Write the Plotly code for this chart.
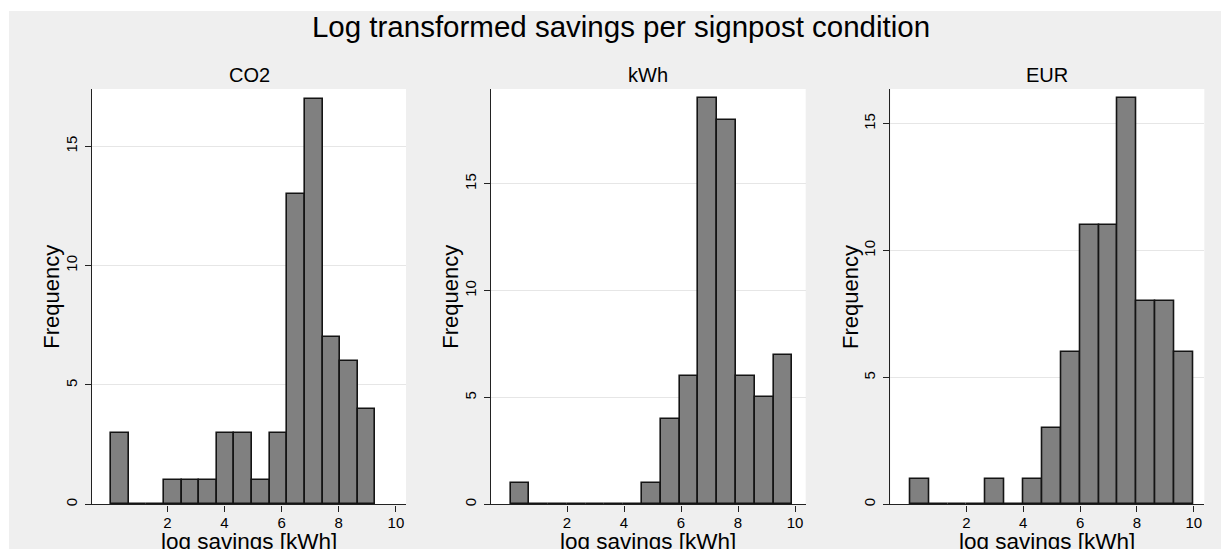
import plotly.graph_objects as go

# ---- data ----
panels = ["CO2", "kWh", "EUR"]
co2_bin_start = 0.03
co2_bin_width = 0.617
co2_counts = [3, 0, 0, 1, 1, 1, 3, 3, 1, 3, 13, 17, 7, 6, 4]

kwh_bin_start = 0.02
kwh_bin_width = 0.659
kwh_counts = [1, 0, 0, 0, 0, 0, 0, 1, 4, 6, 19, 18, 6, 5, 7]

eur_bin_start = 0.02
eur_bin_width = 0.664
eur_counts = [1, 0, 0, 0, 1, 0, 1, 3, 6, 11, 11, 16, 8, 8, 6]

x_tick_vals = [2, 4, 6, 8, 10]
y_tick_vals = [0, 5, 10, 15]

title_text = "Log transformed savings per signpost condition"
x_title = "log savings [kWh]"
y_title = "Frequency"

# ---- layout geometry (pixels of the 1221x549 picture) ----
W, H = 1221, 549
FONT = "Liberation Sans, Arial, Helvetica, sans-serif"
x_px = [[92, 406], [491, 805.7], [890.3, 1204.3]]
x_domains = [[a / W, b / W] for a, b in x_px]
y_top_px, y_bot_px = 89, 504.3
y_domain = [(H - y_bot_px) / H, (H - y_top_px) / H]
x_ranges = [[-0.637, 10.354], [-0.667, 10.375], [-0.675, 10.37]]
y_ranges = [[0, 17.40], [0, 19.44], [0, 16.37]]

series = [
    (co2_bin_start, co2_bin_width, co2_counts),
    (kwh_bin_start, kwh_bin_width, kwh_counts),
    (eur_bin_start, eur_bin_width, eur_counts),
]

fig = go.Figure()
for i, (start, width, counts) in enumerate(series):
    centers = [start + width * (k + 0.5) for k in range(len(counts))]
    sfx = "" if i == 0 else str(i + 1)
    fig.add_trace(go.Bar(
        x=centers, y=counts, width=[width] * len(counts),
        marker=dict(color="#808080", line=dict(color="#141414", width=1.6)),
        xaxis="x" + sfx, yaxis="y" + sfx, showlegend=False,
        hovertemplate="%{y}<extra></extra>",
    ))

layout = dict(
    width=W, height=H,
    margin=dict(l=0, r=0, t=0, b=0, autoexpand=False),
    paper_bgcolor="#efefef",
    plot_bgcolor="#ffffff",
    font=dict(family=FONT, color="#000000"),
    bargap=0,
    title=dict(text=title_text, x=621 / W, xanchor="center",
               y=1 - 27 / H, yanchor="middle", yref="container",
               font=dict(size=29.5, family=FONT, color="#000000")),
    shapes=[
        dict(type="rect", xref="paper", yref="paper", x0=0, x1=9 / W,
             y0=0, y1=1,
             fillcolor="#ffffff", line=dict(width=0), layer="below"),
        dict(type="rect", xref="paper", yref="paper", x0=0, x1=1,
             y0=1 - 11 / H, y1=1,
             fillcolor="#ffffff", line=dict(width=0), layer="below"),
    ],
    annotations=[],
)

for i in range(3):
    sfx = "" if i == 0 else str(i + 1)
    layout["xaxis" + sfx] = dict(
        domain=x_domains[i], range=x_ranges[i], anchor="y" + sfx,
        tickvals=x_tick_vals, ticks="outside", ticklen=6, tickwidth=1.2,
        tickcolor="#222222", showline=True, linecolor="#222222", linewidth=1.4,
        showgrid=False, zeroline=False, fixedrange=True,
        ticklabelstandoff=-2,
        tickfont=dict(size=15, family=FONT, color="#000000"),
        automargin=False,
    )
    layout["yaxis" + sfx] = dict(
        domain=y_domain, range=y_ranges[i], anchor="x" + sfx,
        tickvals=y_tick_vals, ticks="outside", ticklen=6, tickwidth=1.2,
        tickcolor="#222222", showline=True, linecolor="#222222", linewidth=1.4,
        showgrid=True, gridcolor="#e6e6e6", gridwidth=1, zeroline=False,
        tickangle=-90, fixedrange=True, ticklabelstandoff=2,
        tickfont=dict(size=15, family=FONT, color="#000000"),
        automargin=False,
    )
    cx = (x_domains[i][0] + x_domains[i][1]) / 2
    # panel title
    layout["annotations"].append(dict(
        text=panels[i], x=cx, y=1 - 75 / H, xref="paper", yref="paper",
        xanchor="center", yanchor="middle", showarrow=False,
        font=dict(size=20, family=FONT, color="#000000"),
    ))
    # x axis title
    layout["annotations"].append(dict(
        text=x_title, x=cx, y=(H - 528) / H, xref="paper", yref="paper",
        xanchor="center", yanchor="top", showarrow=False, borderpad=0,
        font=dict(size=22.5, family=FONT, color="#000000"),
    ))
    # y axis title
    layout["annotations"].append(dict(
        text=y_title, x=(x_px[i][0] - 40) / W,
        y=(y_domain[0] + y_domain[1]) / 2, xref="paper", yref="paper",
        xanchor="center", yanchor="middle", textangle=-90, showarrow=False,
        font=dict(size=22, family=FONT, color="#000000"),
    ))

fig.update_layout(**layout)
fig.write_html(
    "out.html",
    config={"displayModeBar": False},
    post_script=(
        "document.documentElement.style.overflow='hidden';"
        "document.body.style.margin='0';"
        "document.body.style.overflow='hidden';"
    ),
)
